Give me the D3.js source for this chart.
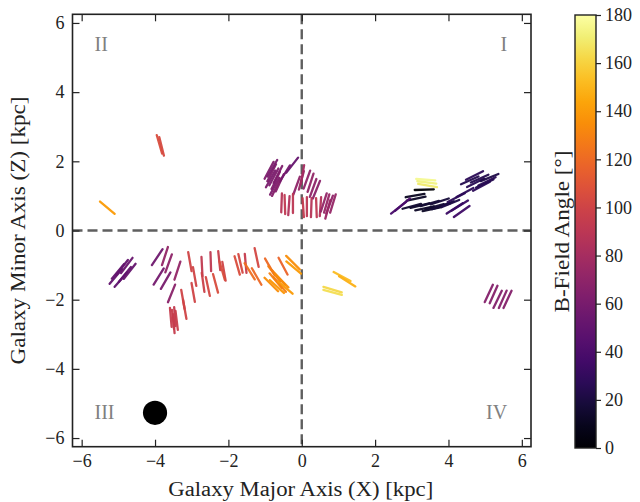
<!DOCTYPE html>
<html>
<head>
<meta charset="utf-8">
<script src="https://cdn.jsdelivr.net/npm/d3@7"></script>
<style>
  html, body { margin: 0; padding: 0; background: #fff; }
  svg text { font-family: "Liberation Serif", "DejaVu Serif", serif; }
</style>
</head>
<body>
<svg id="chart" width="640" height="502"></svg>
<script>
// Polarization vectors: position (kpc) and B-field angle (deg)
const vecX = [
  -3.88, -3.82, -5.30,
  // upper middle
  -0.89, -0.82, -0.76, -0.71, -0.85, -0.65, -0.60, -0.74, -0.26, -0.46, -0.01, 0.02, -0.14,
  0.14, 0.24, 0.31, 0.40, -0.80, -0.70,
  -0.55, -0.46, -0.35, -0.24, 0.04, 0.14, 0.26, 0.40, 0.51,
  0.60, 0.68, 0.76, 0.85, 0.71,
  // upper right
  3.38, 3.41, 3.43, 3.34, 3.09, 3.12,
  3.22, 3.49, 3.76, 3.35, 3.62, 3.90, 3.00, 3.55, 3.80, 4.05,
  2.64, 2.75,
  4.58, 4.74, 4.90, 4.99, 5.12, 4.71, 4.21, 4.45, 4.85, 5.05,
  4.17, 4.31, 4.36,
  // lower left
  -5.01, -4.90, -4.82, -4.93, -4.77, -4.69, -5.07,
  -3.94, -3.73, -3.63, -3.90, -3.71, -3.55, -3.39,
  -3.57, -3.51, -3.46, -3.41, -3.49, -3.24, -3.19,
  -3.05, -2.92, -2.72, -2.69, -2.48, -2.35, -2.25, -2.12, -2.96, -2.56,
  // lower middle
  -2.17, -1.76, -1.67, -1.53, -1.23,
  -1.42, -1.23, -0.87, -0.83, -0.71, -0.60, -0.63, -0.51, -0.24, -0.22,
  -0.75, -0.55, -0.68, -0.45,
  1.10, 1.24, 0.84, 0.84,
  // lower right
  5.10, 5.23, 5.34, 5.48, 5.61
];
const vecZ = [
  2.49, 2.43, 0.66,
  1.74, 1.67, 1.55, 1.45, 1.49, 1.62, 1.38, 1.28, 1.89, 1.65, 1.45, 1.62, 1.30,
  1.47, 1.38, 1.23, 1.18, 1.80, 1.25,
  0.80, 0.75, 0.72, 0.78, 0.66, 0.69, 0.66, 0.66, 0.69,
  0.81, 0.78, 0.75, 0.78, 0.61,
  1.47, 1.39, 1.30, 1.18, 1.01, 0.92,
  0.72, 0.78, 0.84, 0.64, 0.69, 0.75, 0.70, 0.62, 0.70, 0.78,
  0.66, 0.75,
  1.45, 1.38, 1.28, 1.36, 1.53, 1.59, 0.95, 1.10, 1.50, 1.42,
  0.64, 0.72, 0.55,
  -1.18, -1.07, -1.27, -1.42, -1.01, -1.18, -1.33,
  -0.77, -0.74, -0.95, -1.33, -1.45, -1.82, -1.16,
  -2.51, -2.57, -2.49, -2.60, -2.69, -1.99, -2.28,
  -0.90, -1.33, -1.04, -1.50, -0.90, -1.53, -0.87, -1.18, -1.79, -1.62,
  -1.16, -1.01, -0.95, -0.95, -0.78,
  -1.18, -1.33, -1.05, -1.56, -1.45, -1.56, -1.36, -1.03, -0.93, -1.07,
  -1.25, -1.45, -1.62, -1.65,
  -1.33, -1.47, -1.71, -1.79,
  -1.82, -1.85, -1.99, -1.99, -1.99
];
const vecAngle = [
  106, 104, 140,
  62, 63, 62, 64, 61, 63, 65, 62, 52, 58, 75, 80, 70,
  70, 72, 70, 68, 60, 65,
  88, 92, 86, 90, 94, 90, 88, 92, 86,
  72, 74, 70, 73, 75,
  176, 173, 170, 2, 10, 12,
  14, 16, 18, 12, 15, 20, 15, 12, 18, 22,
  38, 40,
  24, 26, 28, 25, 22, 27, 27, 28, 24, 26,
  33, 32, 35,
  50, 52, 51, 49, 53, 52, 50,
  56, 72, 70, 58, 60, 68, 72,
  95, 96, 94, 97, 95, 100, 100,
  100, 100, 93, 98, 92, 105, 96, 100, 100, 102,
  106, 106, 103, 95, 102,
  122, 120, 120, 135, 130, 130, 132, 118, 135, 140,
  128, 135, 138, 140,
  152, 148, 163, 165,
  65, 66, 64, 66, 65
];

const xTicks = [-6, -4, -2, 0, 2, 4, 6];
const zTicks = [-6, -4, -2, 0, 2, 4, 6];
const cbarTicks = [0, 20, 40, 60, 80, 100, 120, 140, 160, 180];
const quadrantLabels = ["I", "II", "III", "IV"];
const beam = { x: -4.0, z: -5.27, r: 0.33 };

const svg = d3.select("#chart");
const pL = 72.5, pR = 531, pT = 14.3, pB = 446.7;

const x = d3.scaleLinear().domain([-6.25, 6.25]).range([pL, pR]);
const y = d3.scaleLinear().domain([-6.25, 6.25]).range([pB, pT]);
const color = d3.scaleSequential(d3.interpolateInferno).domain([0, 180]);

const vectors = vecX.map((vx, i) => ({ x: vx, z: vecZ[i], a: vecAngle[i] }));

// Dashed quadrant dividers
const dash = svg.append("g").attr("stroke", "#5f5f5f").attr("stroke-width", 2.4)
  .attr("stroke-dasharray", "10,5");
dash.append("line").attr("x1", x(0)).attr("x2", x(0)).attr("y1", pT).attr("y2", pB);
dash.append("line").attr("x1", pL).attr("x2", pR).attr("y1", y(0)).attr("y2", y(0));

// Vectors (half-length in kpc, drawn along the B-field angle)
const half = 0.26;
const pxPerKpc = x(1) - x(0);
svg.append("g").selectAll("line").data(vectors).join("line")
  .attr("x1", d => x(d.x) - half * pxPerKpc * Math.cos(d.a * Math.PI / 180))
  .attr("x2", d => x(d.x) + half * pxPerKpc * Math.cos(d.a * Math.PI / 180))
  .attr("y1", d => y(d.z) + half * pxPerKpc * Math.sin(d.a * Math.PI / 180))
  .attr("y2", d => y(d.z) - half * pxPerKpc * Math.sin(d.a * Math.PI / 180))
  .attr("stroke", d => color(d.a))
  .attr("stroke-width", 2.3)
  .attr("stroke-linecap", "round")
  .attr("opacity", 0.95);

// Beam
svg.append("circle").attr("cx", x(beam.x)).attr("cy", y(beam.z))
  .attr("r", beam.r * pxPerKpc).attr("fill", "#000");

// Quadrant labels
const qpos = [
  { t: quadrantLabels[0], x: 5.6, z: 5.2, anchor: "end" },
  { t: quadrantLabels[1], x: -5.65, z: 5.2, anchor: "start" },
  { t: quadrantLabels[2], x: -5.65, z: -5.45, anchor: "start" },
  { t: quadrantLabels[3], x: 5.6, z: -5.45, anchor: "end" }
];
svg.append("g").selectAll("text").data(qpos).join("text")
  .attr("x", d => x(d.x)).attr("y", d => y(d.z))
  .attr("text-anchor", d => d.anchor)
  .attr("fill", "#808080").attr("font-size", 20)
  .text(d => d.t);

// Axes with inward ticks on all four sides
const fmt = d3.format("d");
function styleAxis(g) {
  g.selectAll(".domain").remove();
  g.selectAll(".tick line").attr("stroke", "#222").attr("stroke-width", 1.2);
  g.selectAll(".tick text").attr("font-size", 18).attr("fill", "#222")
    .style("font-family", "'Liberation Serif', serif");
}
svg.append("g").attr("transform", `translate(0,${pB})`)
  .call(d3.axisBottom(x).tickValues(xTicks).tickFormat(fmt).tickSizeInner(-7).tickSizeOuter(0).tickPadding(8))
  .call(styleAxis);
svg.append("g").attr("transform", `translate(0,${pT})`)
  .call(d3.axisTop(x).tickValues(xTicks).tickFormat("").tickSizeInner(-7).tickSizeOuter(0))
  .call(styleAxis);
svg.append("g").attr("transform", `translate(${pL},0)`)
  .call(d3.axisLeft(y).tickValues(zTicks).tickFormat(fmt).tickSizeInner(-7).tickSizeOuter(0).tickPadding(8))
  .call(styleAxis);
svg.append("g").attr("transform", `translate(${pR},0)`)
  .call(d3.axisRight(y).tickValues(zTicks).tickFormat("").tickSizeInner(-7).tickSizeOuter(0))
  .call(styleAxis);

// Frame
svg.append("rect").attr("x", pL).attr("y", pT)
  .attr("width", pR - pL).attr("height", pB - pT)
  .attr("fill", "none").attr("stroke", "#222").attr("stroke-width", 1.6);

// Axis titles
svg.append("text").attr("x", (pL + pR) / 2 - 1).attr("y", 496)
  .attr("text-anchor", "middle").attr("font-size", 20).attr("fill", "#222")
  .attr("textLength", 265).attr("lengthAdjust", "spacingAndGlyphs")
  .text("Galaxy Major Axis (X) [kpc]");
svg.append("text").attr("transform", `translate(25,${(pT + pB) / 2}) rotate(-90)`)
  .attr("text-anchor", "middle").attr("font-size", 20).attr("fill", "#222")
  .attr("textLength", 268).attr("lengthAdjust", "spacingAndGlyphs")
  .text("Galaxy Minor Axis (Z) [kpc]");

// Colorbar
const cbL = 575, cbR = 596, cbT = 15, cbB = 448;
const defs = svg.append("defs");
const grad = defs.append("linearGradient").attr("id", "cbgrad")
  .attr("x1", 0).attr("y1", 1).attr("x2", 0).attr("y2", 0);
d3.range(0, 1.0001, 0.05).forEach(t => {
  grad.append("stop").attr("offset", t).attr("stop-color", d3.interpolateInferno(t));
});
svg.append("rect").attr("x", cbL).attr("y", cbT).attr("width", cbR - cbL).attr("height", cbB - cbT)
  .attr("fill", "url(#cbgrad)").attr("stroke", "#222").attr("stroke-width", 1.4);
const cy = d3.scaleLinear().domain([0, 180]).range([cbB, cbT]);
svg.append("g").attr("transform", `translate(${cbR},0)`)
  .call(d3.axisRight(cy).tickValues(cbarTicks).tickFormat(fmt).tickSizeInner(5).tickSizeOuter(0).tickPadding(4))
  .call(styleAxis);
svg.append("text").attr("transform", `translate(569,${(cbT + cbB) / 2}) rotate(-90)`)
  .attr("text-anchor", "middle").attr("font-size", 20).attr("fill", "#222")
  .attr("textLength", 162).attr("lengthAdjust", "spacingAndGlyphs")
  .text("B-Field Angle [°]");
</script>
</body>
</html>
